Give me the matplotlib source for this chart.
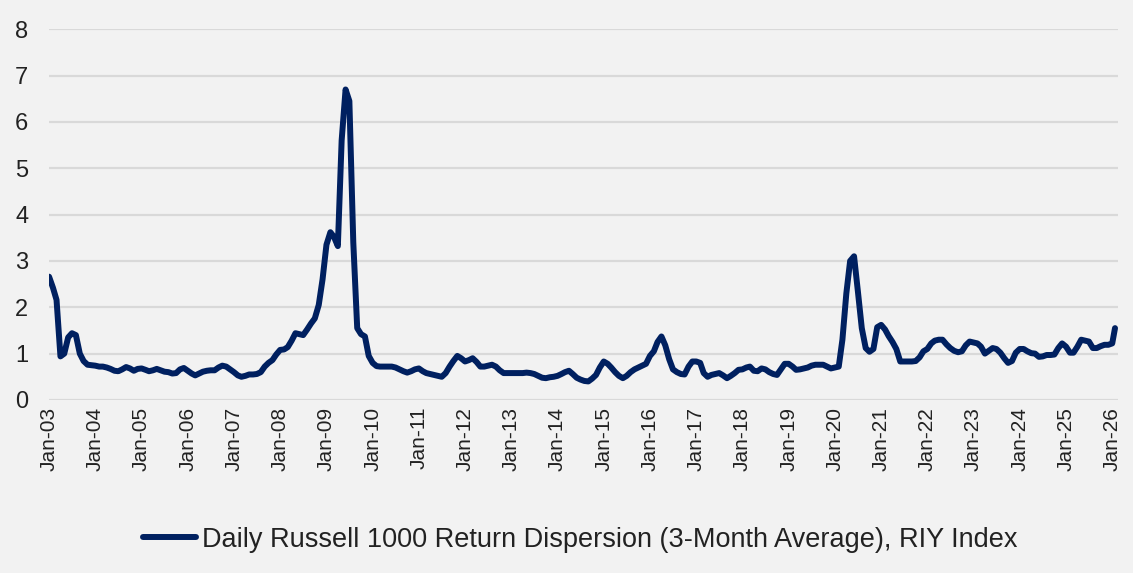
# === Daily Russell 1000 Return Dispersion (3-Month Average), RIY Index ===
import pandas as pd
import matplotlib
matplotlib.use("Agg")
import matplotlib.pyplot as plt
import matplotlib.dates as mdates

plt.rcParams["font.family"] = ["Liberation Sans", "DejaVu Sans"]

# === 1. Data (monthly readings, Jan-03 .. Jan-26) ===
dispersion = [
    2.66, 2.42, 2.16, 0.94, 1.00, 1.35, 1.44, 1.40, 1.00, 0.84, 0.76, 0.75,  # 2003
    0.74, 0.72, 0.72, 0.70, 0.67, 0.63, 0.62, 0.66, 0.71, 0.68, 0.63, 0.67,  # 2004
    0.68, 0.65, 0.62, 0.64, 0.67, 0.64, 0.61, 0.60, 0.57, 0.58, 0.66, 0.69,  # 2005
    0.63, 0.57, 0.53, 0.57, 0.61, 0.63, 0.64, 0.64, 0.70, 0.74, 0.72, 0.66,  # 2006
    0.60, 0.53, 0.50, 0.52, 0.55, 0.55, 0.56, 0.60, 0.72, 0.80, 0.86, 0.98,  # 2007
    1.08, 1.09, 1.14, 1.28, 1.44, 1.42, 1.40, 1.52, 1.65, 1.76, 2.05, 2.60,  # 2008
    3.35, 3.62, 3.52, 3.32, 5.60, 6.70, 6.45, 3.40, 1.55, 1.42, 1.37, 0.95,  # 2009
    0.80, 0.73, 0.72, 0.72, 0.72, 0.72, 0.70, 0.66, 0.62, 0.59, 0.62, 0.66,  # 2010
    0.68, 0.62, 0.58, 0.56, 0.54, 0.52, 0.50, 0.58, 0.72, 0.84, 0.95, 0.90,  # 2011
    0.83, 0.86, 0.90, 0.82, 0.72, 0.72, 0.74, 0.76, 0.72, 0.64, 0.58, 0.58,  # 2012
    0.58, 0.58, 0.58, 0.58, 0.59, 0.58, 0.56, 0.52, 0.48, 0.47, 0.49, 0.50,  # 2013
    0.52, 0.56, 0.60, 0.63, 0.56, 0.48, 0.44, 0.41, 0.40, 0.46, 0.54, 0.70,  # 2014
    0.83, 0.78, 0.70, 0.60, 0.52, 0.47, 0.52, 0.60, 0.66, 0.70, 0.74, 0.78,  # 2015
    0.95, 1.05, 1.25, 1.37, 1.18, 0.88, 0.66, 0.60, 0.56, 0.55, 0.72, 0.83,  # 2016
    0.83, 0.80, 0.58, 0.50, 0.54, 0.56, 0.58, 0.53, 0.47, 0.52, 0.58, 0.65,  # 2017
    0.66, 0.70, 0.72, 0.63, 0.62, 0.68, 0.66, 0.60, 0.56, 0.54, 0.66, 0.78,  # 2018
    0.78, 0.72, 0.65, 0.66, 0.68, 0.70, 0.74, 0.76, 0.76, 0.76, 0.72, 0.68,  # 2019
    0.70, 0.72, 1.30, 2.30, 3.00, 3.10, 2.35, 1.55, 1.12, 1.04, 1.10, 1.57,  # 2020
    1.62, 1.52, 1.38, 1.25, 1.10, 0.83, 0.83, 0.83, 0.83, 0.84, 0.92, 1.05,  # 2021
    1.10, 1.22, 1.28, 1.30, 1.30, 1.20, 1.12, 1.06, 1.03, 1.05, 1.18, 1.26,  # 2022
    1.24, 1.22, 1.15, 1.00, 1.06, 1.12, 1.10, 1.02, 0.90, 0.80, 0.84, 1.02,  # 2023
    1.10, 1.10, 1.05, 1.01, 1.00, 0.93, 0.94, 0.97, 0.97, 0.98, 1.12, 1.22,  # 2024
    1.15, 1.02, 1.02, 1.15, 1.30, 1.28, 1.26, 1.12, 1.12, 1.16, 1.19, 1.19,  # 2025
    1.22, 1.55,                                                              # 2026
]
monthly_dates = pd.date_range("2003-01-01", "2026-01-01", freq="MS")
last_date = pd.Timestamp("2026-01-23")
dates = list(monthly_dates) + [last_date]

series_label = "Daily Russell 1000 Return Dispersion (3-Month Average), RIY Index"
y_ticks = [0, 1, 2, 3, 4, 5, 6, 7, 8]

# === 2. Plot ===
bg = "#f2f2f2"
fig = plt.figure(figsize=(11.33, 5.73), dpi=100, facecolor=bg)
ax = fig.add_axes([0.0433, 0.302, 0.9435, 0.647], facecolor=bg)

ax.plot(dates, dispersion, color="#002060", linewidth=4.3,
        solid_joinstyle="round", solid_capstyle="round", label=series_label)

# axes / grid
ax.set_ylim(0, 8)
ax.set_yticks(y_ticks)
ax.set_xlim(pd.Timestamp("2003-01-01"), pd.Timestamp("2026-02-16"))
ax.xaxis.set_major_locator(mdates.YearLocator(1, month=1, day=1))
ax.xaxis.set_major_formatter(mdates.DateFormatter("%b-%y"))
ax.grid(axis="y", color="#d9d9d9", linewidth=1.6)
ax.set_axisbelow(True)
for s in ax.spines.values():
    s.set_visible(False)
ax.tick_params(axis="y", length=0, pad=15, labelsize=17, labelcolor="#222222")
ax.tick_params(axis="x", length=0, pad=5, labelsize=15, labelcolor="#222222",
               labelrotation=90)

# legend
fig.legend(loc="center", bbox_to_anchor=(0.512, 0.058), frameon=False,
           fontsize=19.5, handlelength=1.95, handletextpad=0.22,
           labelcolor="#222222")

plt.savefig("out.png", dpi=100, facecolor=bg)
